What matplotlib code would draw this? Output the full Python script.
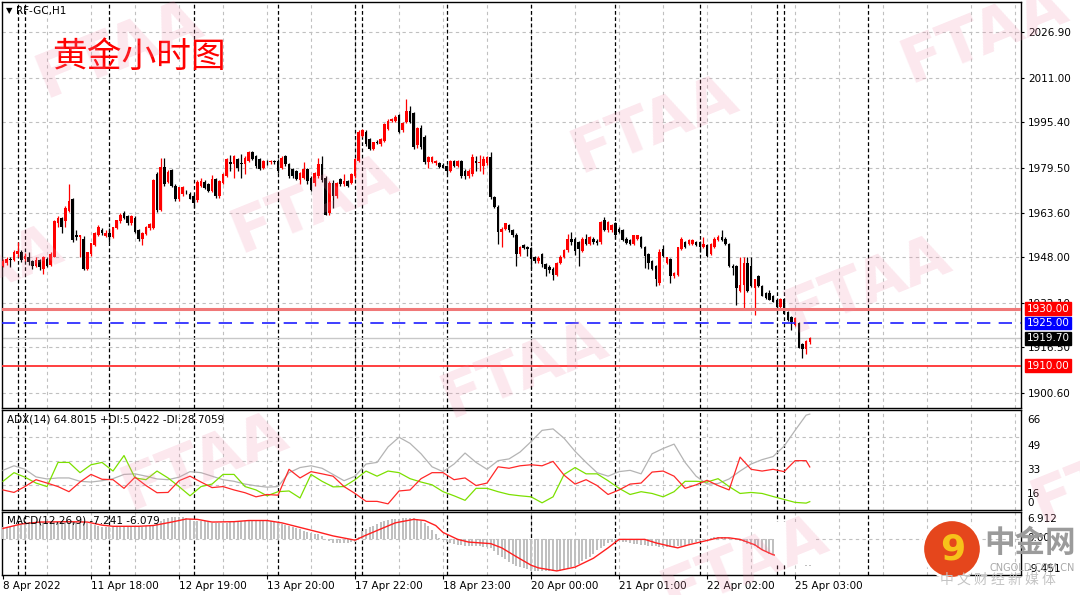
import numpy as np
import matplotlib.pyplot as plt
from matplotlib.transforms import blended_transform_factory
from matplotlib.patches import Circle, Rectangle

plt.rcParams['font.family'] = ['DejaVu Sans', 'Noto Sans CJK SC']

''' DATA '''

# H1 candles (bar 0 = 8 Apr 2022 evening)
opens = [
    1945.1, 1946.0, 1947.5, 1947.0, 1949.3, 1950.0, 1947.3, 1948.3, 1946.8, 1945.1,
    1947.0, 1944.0, 1947.5, 1945.4, 1948.1, 1960.0, 1961.8, 1960.6, 1964.2, 1968.4,
    1955.8, 1955.0, 1954.6, 1943.9, 1949.3, 1952.3, 1955.8, 1957.6, 1955.5, 1956.4,
    1955.2, 1958.2, 1960.6, 1963.6, 1962.4, 1960.0, 1961.8, 1957.6, 1954.3, 1956.2,
    1958.2, 1958.2, 1977.3, 1964.6, 1979.7, 1974.6, 1978.5, 1973.2, 1968.4, 1970.2,
    1971.0, 1970.2, 1969.6, 1968.0, 1973.2, 1974.4, 1973.6, 1971.3, 1975.4, 1969.5,
    1974.2, 1976.5, 1981.3, 1980.7, 1982.4, 1980.9, 1980.7, 1981.9, 1984.8, 1983.6,
    1982.4, 1979.5, 1981.5, 1981.3, 1981.9, 1981.8, 1979.5, 1983.6, 1980.7, 1978.9,
    1978.3, 1975.0, 1976.0, 1978.9, 1976.0, 1974.2, 1976.5, 1980.7, 1976.0, 1963.6,
    1974.2, 1969.5, 1975.4, 1973.6, 1974.8, 1974.2, 1976.5, 1981.9, 1990.7, 1991.9,
    1989.5, 1986.0, 1988.6, 1987.7, 1988.9, 1993.0, 1996.0, 1996.0, 1997.8, 1992.5,
    1995.6, 1999.2, 1998.6, 1987.3, 1993.3, 1990.3, 1981.3, 1981.5, 1981.0, 1981.0,
    1980.5, 1980.0, 1978.4, 1981.7, 1980.2, 1981.7, 1978.4, 1976.6, 1977.2, 1981.7,
    1981.0, 1980.2, 1981.0, 1983.1, 1969.1, 1965.8, 1956.9, 1958.1, 1959.3, 1957.5,
    1955.9, 1949.2, 1952.2, 1951.6, 1951.4, 1948.2, 1946.8, 1949.2, 1945.6, 1944.8,
    1944.0, 1942.0, 1946.2, 1948.2, 1950.6, 1954.5, 1954.5, 1953.3, 1950.4, 1954.5,
    1952.8, 1954.5, 1953.9, 1953.3, 1961.1, 1957.5, 1957.5, 1959.9, 1958.1, 1957.5,
    1954.6, 1954.0, 1952.8, 1954.6, 1955.1, 1951.6, 1949.2, 1946.8, 1945.0, 1939.1,
    1951.0, 1946.2, 1947.4, 1941.4, 1942.0, 1951.0, 1953.4, 1952.8, 1952.8, 1953.4,
    1953.4, 1951.6, 1952.2, 1949.2, 1951.6, 1954.0, 1955.1, 1954.6, 1952.8, 1945.0,
    1945.0, 1936.1, 1938.5, 1946.2, 1945.0, 1937.3, 1941.4, 1937.9, 1935.5, 1935.5,
    1934.3, 1933.1, 1930.7, 1933.4, 1928.9, 1927.2, 1924.2, 1925.0, 1917.6, 1915.8, 1918.2,
]
highs = [
    1947.5, 1948.0, 1948.1, 1950.5, 1953.4, 1950.5, 1949.5, 1950.0, 1947.2, 1948.0,
    1947.3, 1948.5, 1948.3, 1949.8, 1961.0, 1962.4, 1962.0, 1966.0, 1973.8, 1969.0,
    1957.6, 1955.8, 1955.5, 1950.0, 1953.0, 1957.0, 1959.3, 1958.2, 1957.5, 1958.2,
    1958.8, 1961.2, 1963.5, 1964.2, 1963.0, 1962.8, 1962.4, 1958.0, 1957.0, 1959.0,
    1960.0, 1975.5, 1978.0, 1982.7, 1982.7, 1978.5, 1979.0, 1973.8, 1972.8, 1973.0,
    1971.5, 1971.0, 1970.2, 1975.0, 1975.8, 1975.0, 1974.0, 1976.8, 1975.8, 1975.0,
    1977.5, 1983.0, 1983.9, 1984.0, 1983.0, 1984.2, 1983.5, 1985.2, 1985.4, 1984.0,
    1982.8, 1982.2, 1982.0, 1982.2, 1982.2, 1982.4, 1983.4, 1983.9, 1981.2, 1979.4,
    1978.8, 1978.0, 1981.3, 1979.4, 1976.4, 1978.0, 1983.0, 1983.4, 1976.5, 1974.8,
    1975.0, 1974.5, 1975.8, 1977.1, 1975.2, 1977.5, 1983.0, 1992.5, 1993.0, 1992.5,
    1990.0, 1988.5, 1989.0, 1990.0, 1995.2, 1996.5, 1997.0, 1998.0, 1998.3, 1995.5,
    2003.4, 2001.0, 1999.0, 1993.6, 1994.4, 1990.8, 1983.5, 1983.5, 1982.2, 1981.5,
    1981.0, 1980.5, 1982.0, 1982.0, 1982.0, 1982.0, 1979.0, 1979.0, 1984.3, 1983.7,
    1984.0, 1983.5, 1983.5, 1984.9, 1969.5, 1966.3, 1958.5, 1960.0, 1959.8, 1958.0,
    1956.5, 1952.0, 1952.8, 1952.0, 1951.8, 1948.6, 1948.6, 1949.6, 1946.0, 1945.2,
    1944.5, 1946.4, 1948.8, 1951.0, 1956.3, 1956.9, 1955.0, 1953.8, 1955.0, 1956.3,
    1955.5, 1955.0, 1954.5, 1960.8, 1962.3, 1960.8, 1959.8, 1960.3, 1958.5, 1957.9,
    1955.0, 1954.4, 1955.9, 1955.9, 1955.5, 1952.0, 1949.6, 1947.2, 1945.4, 1951.0,
    1952.2, 1948.3, 1947.8, 1943.0, 1951.8, 1955.1, 1953.8, 1954.3, 1954.3, 1953.8,
    1953.8, 1955.1, 1952.6, 1953.2, 1955.0, 1955.9, 1957.5, 1955.0, 1953.2, 1945.6,
    1945.4, 1948.0, 1948.0, 1948.0, 1948.0, 1940.3, 1941.8, 1938.3, 1935.9, 1936.7,
    1934.7, 1933.5, 1933.8, 1933.8, 1929.3, 1927.6, 1927.0, 1925.4, 1918.0, 1919.0, 1920.2,
]
lows = [
    1944.5, 1945.5, 1944.5, 1946.8, 1948.1, 1946.3, 1946.8, 1945.5, 1943.9, 1944.8,
    1943.5, 1942.1, 1944.5, 1945.0, 1948.0, 1958.8, 1956.4, 1958.5, 1964.0, 1953.5,
    1954.0, 1948.1, 1943.5, 1943.5, 1948.5, 1952.0, 1955.5, 1955.8, 1955.0, 1953.4,
    1954.8, 1957.8, 1960.0, 1961.5, 1959.5, 1959.5, 1956.5, 1953.8, 1952.3, 1955.8,
    1957.5, 1958.0, 1964.0, 1964.3, 1973.0, 1974.0, 1972.6, 1967.8, 1967.8, 1969.5,
    1970.2, 1968.4, 1965.4, 1967.5, 1972.8, 1972.0, 1971.0, 1971.0, 1969.0, 1968.9,
    1973.8, 1976.2, 1978.3, 1976.0, 1978.3, 1976.0, 1977.1, 1981.5, 1982.0, 1979.5,
    1978.5, 1979.0, 1980.5, 1980.8, 1980.8, 1977.7, 1979.0, 1980.2, 1976.0, 1976.0,
    1975.0, 1973.6, 1975.5, 1973.6, 1971.3, 1973.0, 1976.0, 1974.5, 1962.8, 1963.0,
    1965.4, 1969.0, 1973.2, 1973.0, 1972.8, 1973.8, 1976.0, 1981.5, 1990.2, 1987.2,
    1985.8, 1985.5, 1987.8, 1987.2, 1988.5, 1992.5, 1995.5, 1995.5, 1991.5, 1992.0,
    1995.0, 1995.0, 1986.0, 1986.5, 1986.0, 1980.7, 1979.5, 1981.0, 1980.5, 1979.5,
    1979.3, 1977.2, 1978.0, 1979.8, 1979.8, 1976.0, 1975.4, 1976.0, 1976.5, 1978.4,
    1978.4, 1977.2, 1980.5, 1968.5, 1965.4, 1952.8, 1951.6, 1957.5, 1957.0, 1955.2,
    1945.0, 1948.5, 1950.8, 1948.5, 1943.8, 1946.0, 1946.0, 1944.8, 1941.4, 1942.5,
    1940.2, 1941.5, 1945.8, 1947.8, 1950.0, 1952.5, 1949.0, 1945.0, 1950.0, 1952.5,
    1952.3, 1952.8, 1952.5, 1952.8, 1957.2, 1957.0, 1957.0, 1954.6, 1956.5, 1953.8,
    1952.8, 1952.5, 1952.4, 1954.2, 1951.2, 1944.4, 1944.0, 1943.5, 1937.9, 1938.5,
    1948.3, 1945.8, 1939.1, 1940.9, 1941.6, 1950.6, 1951.2, 1952.4, 1952.4, 1952.0,
    1949.8, 1951.2, 1948.2, 1948.8, 1951.2, 1953.6, 1953.6, 1952.4, 1944.6, 1942.0,
    1931.3, 1935.8, 1930.1, 1935.8, 1937.5, 1927.8, 1937.5, 1934.3, 1933.4, 1933.0,
    1932.3, 1929.5, 1930.3, 1928.0, 1925.8, 1922.4, 1923.8, 1916.2, 1912.9, 1914.1, 1917.8,
]
closes = [
    1946.9, 1947.5, 1947.0, 1949.9, 1950.3, 1947.0, 1948.5, 1946.3, 1945.1, 1947.0,
    1944.5, 1948.1, 1945.1, 1949.3, 1960.6, 1961.8, 1958.8, 1965.4, 1967.8, 1954.0,
    1955.2, 1955.8, 1943.9, 1949.9, 1952.9, 1956.4, 1958.8, 1956.4, 1956.7, 1955.2,
    1958.8, 1961.2, 1963.0, 1961.8, 1960.0, 1962.4, 1957.0, 1954.3, 1956.7, 1958.8,
    1959.8, 1975.0, 1964.6, 1979.7, 1973.8, 1977.9, 1973.2, 1968.4, 1972.6, 1972.6,
    1970.8, 1968.6, 1967.2, 1974.4, 1974.8, 1972.4, 1971.3, 1975.4, 1969.5, 1974.8,
    1977.1, 1982.4, 1980.9, 1983.6, 1979.5, 1980.7, 1983.0, 1984.8, 1982.4, 1980.0,
    1978.9, 1981.9, 1981.3, 1981.9, 1981.3, 1978.3, 1983.0, 1980.7, 1976.5, 1976.5,
    1975.4, 1977.7, 1978.9, 1974.8, 1971.8, 1977.7, 1980.7, 1975.0, 1963.0, 1974.2,
    1969.5, 1974.2, 1973.6, 1974.8, 1973.0, 1977.1, 1982.4, 1991.9, 1992.5, 1987.7,
    1986.0, 1988.3, 1988.1, 1989.5, 1994.8, 1996.0, 1996.6, 1997.2, 1992.1, 1995.0,
    1999.2, 1995.6, 1986.7, 1993.3, 1986.7, 1981.3, 1983.1, 1983.1, 1981.9, 1979.8,
    1979.5, 1978.4, 1981.7, 1980.2, 1981.7, 1976.6, 1976.6, 1978.4, 1983.1, 1981.0,
    1981.5, 1982.5, 1983.1, 1969.1, 1965.8, 1956.9, 1958.1, 1959.9, 1957.5, 1955.7,
    1949.2, 1951.6, 1951.2, 1951.0, 1947.4, 1946.8, 1947.9, 1945.6, 1943.8, 1943.6,
    1942.0, 1946.2, 1948.2, 1950.6, 1954.5, 1953.3, 1950.4, 1951.0, 1954.5, 1952.8,
    1955.1, 1953.3, 1953.0, 1960.5, 1957.5, 1960.5, 1959.3, 1955.7, 1956.9, 1954.0,
    1952.9, 1952.8, 1955.7, 1955.7, 1951.6, 1948.6, 1946.2, 1943.8, 1940.3, 1949.8,
    1948.6, 1948.0, 1941.4, 1942.6, 1951.6, 1954.6, 1951.6, 1954.0, 1954.0, 1952.2,
    1951.6, 1952.8, 1948.6, 1952.8, 1954.6, 1955.1, 1954.0, 1952.8, 1945.0, 1944.4,
    1937.3, 1938.5, 1946.2, 1936.1, 1937.9, 1940.3, 1937.9, 1934.5, 1933.7, 1933.1,
    1932.5, 1930.7, 1933.4, 1928.3, 1926.0, 1925.4, 1926.8, 1916.4, 1915.8, 1918.8, 1919.7,
]

# ADX(14) window, sampled every 3 bars
adx_bars = [0, 3, 6, 9, 12, 15, 18, 21, 24, 27, 30, 33, 36, 39, 42, 45, 48, 51, 54, 57,
            60, 63, 66, 69, 72, 75, 78, 81, 84, 87, 90, 93, 96, 99, 102, 105, 108, 111, 114, 117,
            120, 123, 126, 129, 132, 135, 138, 141, 144, 147, 150, 153, 156, 159, 162, 165, 168, 171, 174, 177,
            180, 183, 186, 189, 192, 195, 198, 201, 204, 207, 210, 213, 216, 219, 220]
adx_main = [26.4, 29.5, 27.1, 21.9, 20.5, 21.2, 21.2, 18.9, 18.4, 19.3,
            20.7, 23.6, 24.0, 22.4, 20.5, 20.0, 21.7, 25.5, 24.8, 22.4,
            20.0, 18.9, 17.0, 15.8, 14.9, 15.3, 24.8, 28.3, 29.5, 27.8,
            23.6, 19.3, 22.4, 30.7, 31.8, 42.4, 49.0, 44.8, 37.7, 28.8,
            25.5, 30.7, 38.2, 31.8, 27.1, 33.0, 34.2, 38.9, 46.0, 53.7,
            54.7, 48.3, 39.4, 31.8, 24.8, 22.4, 25.5, 26.4, 24.0, 37.7,
            41.3, 44.3, 31.8, 22.4, 17.0, 17.4, 20.5, 25.9, 30.7, 33.7,
            35.8, 42.9, 53.7, 64.1, 64.8]
plus_di = [18.9, 24.8, 21.7, 17.7, 15.3, 31.8, 31.8, 24.8, 30.2, 31.8,
           25.9, 36.5, 21.2, 20.0, 25.9, 21.2, 15.3, 9.0, 15.3, 17.0,
           23.6, 23.6, 15.3, 13.0, 9.0, 11.8, 12.3, 7.5, 23.6, 18.9,
           15.1, 15.3, 20.0, 25.9, 22.4, 25.9, 24.8, 20.7, 18.4, 16.5,
           11.8, 9.0, 5.9, 14.1, 14.1, 11.8, 9.9, 9.0, 8.3, 4.2,
           8.3, 23.6, 28.3, 24.0, 24.0, 19.3, 14.1, 9.9, 11.8, 10.6,
           8.3, 11.8, 18.9, 18.9, 18.4, 20.7, 15.3, 10.6, 11.3, 10.6,
           8.5, 6.5, 4.5, 4.0, 5.0]
minus_di = [13.0, 11.3, 15.3, 20.0, 17.7, 15.3, 11.8, 18.4, 23.6, 20.3,
            20.0, 14.1, 21.7, 16.0, 11.1, 11.3, 19.3, 22.4, 18.4, 14.6,
            15.3, 13.0, 11.1, 8.3, 9.9, 9.4, 27.1, 21.2, 25.5, 24.0,
            22.4, 15.3, 10.6, 5.2, 5.2, 3.5, 12.3, 13.0, 20.7, 24.8,
            24.8, 20.0, 21.2, 16.0, 17.7, 28.8, 27.8, 29.5, 30.2, 29.5,
            32.5, 23.1, 17.0, 20.0, 16.0, 9.9, 13.0, 17.0, 17.7, 25.2,
            25.9, 22.4, 14.1, 16.5, 19.6, 16.0, 13.0, 35.4, 27.1, 25.9,
            27.1, 25.5, 33.0, 33.0, 28.7]

# MACD(12,26,9): main as histogram (one per bar), signal line at sampled bars
macd_main = [
    2.9, 3.0, 3.0, 3.3, 3.6, 3.8, 4.0, 4.2, 4.3, 4.3,
    4.3, 4.3, 4.3, 4.3, 4.3, 4.4, 4.4, 4.4, 4.3, 4.3,
    4.3, 4.3, 4.2, 4.0, 3.8, 3.5, 3.2, 3.1, 3.0, 2.9,
    2.9, 2.9, 2.9, 2.9, 2.9, 2.9, 2.9, 3.0, 3.1, 3.2,
    3.4, 3.5, 4.0, 4.7, 5.0, 5.3, 5.6, 5.6, 5.6, 5.5,
    5.3, 5.0, 4.7, 4.6, 4.5, 4.5, 4.3, 4.0, 4.0, 4.0,
    4.0, 4.1, 4.3, 4.5, 4.6, 4.7, 4.7, 4.7, 4.7, 4.7,
    4.7, 4.7, 4.6, 4.5, 4.3, 4.1, 3.8, 3.5, 3.2, 3.0,
    2.7, 2.4, 2.0, 1.7, 1.5, 1.3, 1.1, 0.6, 0.0, -0.5,
    -1.1, -1.1, -1.1, -1.1, -1.1, -1.0, -0.8, 0.5, 2.0, 2.6,
    3.0, 3.4, 3.8, 4.3, 4.5, 4.8, 5.0, 5.1, 5.2, 5.3,
    5.3, 5.3, 5.3, 5.0, 4.7, 4.0, 3.2, 2.2, 1.1, 0.2,
    -0.4, -0.8, -1.1, -1.4, -1.6, -1.7, -1.8, -2.0, -2.0, -2.0,
    -2.0, -2.1, -2.2, -2.4, -3.2, -4.2, -4.8, -5.4, -6.0, -6.5,
    -7.0, -7.4, -7.7, -8.0, -8.3, -8.3, -8.3, -8.3, -8.3, -8.3,
    -8.3, -8.3, -8.3, -8.1, -7.8, -7.4, -7.0, -6.5, -5.9, -5.3,
    -4.8, -4.0, -3.0, -2.4, -1.8, -1.2, -0.8, -0.4, -0.6, -0.8,
    -1.0, -1.1, -1.3, -1.5, -1.6, -1.7, -1.8, -1.9, -2.0, -2.1,
    -2.1, -2.2, -2.2, -2.1, -2.0, -1.9, -1.8, -1.5, -1.2, -0.9,
    -0.6, -0.3, 0.0, 0.2, 0.3, 0.3, 0.3, 0.3, 0.2, 0.0,
    -0.3, -0.6, -1.0, -1.3, -1.6, -2.0, -2.5, -3.0, -3.5, -3.9,
    -4.2, -4.5, -4.8, -5.1, -5.4, -5.7, -6.0, -6.4, -6.7, -7.0, -7.24,
]
signal_bars = [0, 5, 10, 18, 23, 27, 30, 37, 41, 46, 50, 53, 57, 63, 67, 72, 76, 81, 86, 90,
               96, 99, 103, 107, 112, 115, 118, 120, 124, 127, 133, 136, 140, 144, 146, 151, 156, 161, 165, 168,
               171, 175, 178, 182, 184, 187, 191, 195, 198, 201, 205, 207, 210, 220]
signal_vals = [2.65, 3.8, 4.3, 4.4, 4.3, 3.5, 3.2, 3.2, 3.4, 4.3, 5.1, 5.0, 4.3, 4.4, 4.7, 4.7, 4.1, 2.9, 1.7, 0.7,
               -0.4, 0.9, 2.5, 4.1, 5.0, 4.7, 3.4, 1.6, -0.2, -0.9, -1.3, -2.4, -4.7, -6.9, -7.6, -8.4, -7.4, -5.1, -2.4, -0.2,
               -0.2, -0.2, -1.1, -2.0, -2.4, -1.6, -0.7, 0.2, 0.2, -0.2, -1.6, -2.9, -4.2, -6.08]

price_ticks = [2026.90, 2011.00, 1995.40, 1979.50, 1963.60, 1948.00, 1932.10, 1916.50, 1900.60]
time_labels = ['8 Apr 2022', '11 Apr 18:00', '12 Apr 19:00', '13 Apr 20:00', '17 Apr 22:00',
               '18 Apr 23:00', '20 Apr 00:00', '21 Apr 01:00', '22 Apr 02:00', '25 Apr 03:00']
separators = [4, 6, 29, 52, 75, 96, 98, 121, 144, 167, 190, 211, 213, 236]
resist, target, support, last_price = 1930.00, 1925.00, 1910.00, 1919.70


''' PLOTTING '''

W, H = 1080, 595


def place(x0, y0, x1, y1):
    return [x0 / W, 1 - y1 / H, (x1 - x0) / W, (y1 - y0) / H]


fig = plt.figure(figsize=(W / 100, H / 100), dpi=100)
ax = fig.add_axes(place(2, 2, 1021, 408))
ax_adx = fig.add_axes(place(2, 410, 1021, 510), sharex=ax)
ax_macd = fig.add_axes(place(2, 512, 1021, 575), sharex=ax)

grid_kw = dict(color='#c0c0c0', ls=(0, (3, 3)), lw=0.8, zorder=1)
for a in (ax, ax_adx, ax_macd):
    for b in range(12, 278, 12):
        a.axvline(b, **grid_kw)
    for d in separators:
        a.axvline(d, color='black', ls=(0, (3, 2)), lw=0.9, zorder=2)
    for s in a.spines.values():
        s.set_linewidth(1.0)
        s.set_color('black')
    a.set_xlim(-0.27, 277.6)

# candles
o, h, l, c = map(np.array, (opens, highs, lows, closes))
x = np.arange(len(c))
col = np.where(c >= o, '#ff0000', '#000000')
ax.vlines(x, l, h, colors=col, lw=0.9, zorder=3)
ax.bar(x, np.maximum(np.abs(c - o), 0.3), bottom=np.minimum(o, c), width=0.68,
       color=col, lw=0, zorder=4)

ax.set_ylim(1895.2, 2037.55)
for p in price_ticks:
    ax.axhline(p, **grid_kw)
ax.yaxis.tick_right()
ax.set_yticks(price_ticks)
ax.set_yticklabels([f'{p:.2f}' for p in price_ticks])
ax.tick_params(axis='y', length=2.5, pad=2.5, labelsize=7.5)
ax.tick_params(axis='x', bottom=False, labelbottom=False)

ax.axhline(last_price, color='#c8c8c8', lw=1.0, zorder=2)
ax.axhline(resist, color='#f07878', lw=2.2, zorder=5)
ax.axhline(support, color='#ff3030', lw=1.3, zorder=5)
ax.axhline(target, color='#1e1eff', lw=1.2, ls=(0, (8, 5)), zorder=5)

tr = blended_transform_factory(ax.transAxes, ax.transData)
for val, fc in [(resist, '#ff0000'), (target, '#0000ff'), (last_price, '#000000'), (support, '#ff0000')]:
    ax.text(1.0055, val, f'{val:.2f}', transform=tr, color='white', fontsize=7.5,
            va='center', ha='left', clip_on=False, zorder=10,
            bbox=dict(boxstyle='square,pad=0.14', fc=fc, ec=fc))

ax.text(0.004, 0.979, '▼', transform=ax.transAxes, fontsize=6, va='center')
ax.text(0.0137, 0.979, 'RF-GC,H1', transform=ax.transAxes, fontsize=7.5, va='center')
ax.text(0.049, 0.864, '黄金小时图', transform=ax.transAxes, color='#ff0000', fontsize=25,
        family=['Noto Sans CJK SC'], va='center')

# ADX window
ax_adx.set_ylim(-0.7, 67.6)
for g in (16.46, 32.93, 49.39):
    ax_adx.axhline(g, **grid_kw)
ax_adx.plot(adx_bars, adx_main, color='#b4b4b4', lw=0.9, zorder=3)
ax_adx.plot(adx_bars, plus_di, color='#7ce000', lw=0.9, zorder=3)
ax_adx.plot(adx_bars, minus_di, color='#ff2828', lw=0.9, zorder=3)
ax_adx.set_yticks([])
ax_adx.tick_params(axis='x', bottom=False, labelbottom=False)
tr2 = blended_transform_factory(ax_adx.transAxes, ax_adx.transData)
for v, s in [(61.1, '66'), (43.3, '49'), (26.4, '33'), (9.9, '16'), (4.1, '0')]:
    ax_adx.text(1.0059, v, s, transform=tr2, fontsize=7.5, va='center', clip_on=False)
ax_adx.text(0.005, 0.9, 'ADX(14) 64.8015 +DI:5.0422 -DI:28.7059', transform=ax_adx.transAxes,
            fontsize=7.5, va='center')

# MACD window
ax_macd.set_ylim(-9.451, 6.912)
ax_macd.axhline(0, **grid_kw)
ax_macd.bar(x, macd_main, width=0.55, color='#c0c0c0', lw=0, zorder=3)
ax_macd.plot(signal_bars, signal_vals, color='#ff2020', lw=1.0, zorder=4)
ax_macd.add_patch(Rectangle((210.6, -6.9), 11.2, 11.3, fc='white', ec='none', zorder=5))
ax_macd.set_yticks([])
tr3 = blended_transform_factory(ax_macd.transAxes, ax_macd.transData)
for v, s in [(5.14, '6.912'), (0.23, '0.00'), (-7.8, '-9.451')]:
    ax_macd.text(1.0059, v, s, transform=tr3, fontsize=7.5, va='center', clip_on=False)
ax_macd.text(0.005, 0.873, 'MACD(12,26,9) -7.241 -6.079', transform=ax_macd.transAxes,
             fontsize=7.5, va='center', zorder=6)
ax_macd.set_xticks(range(0, 217, 24))
ax_macd.set_xticklabels(time_labels, ha='left', fontsize=7.5)
ax_macd.tick_params(axis='x', length=3, pad=1.5)

# FTAA watermarks
for px, py in [(120, 50), (315, 205), (655, 125), (985, 35), (868, 285), (525, 370),
               (-20, 275), (205, 462), (1115, 475), (745, 565)]:
    fig.text(px / W, 1 - py / H, 'FTAA', rotation=22, fontsize=44, fontweight='bold',
             color='#f08cab', alpha=0.2, ha='center', va='center', zorder=20)

# site logo, bottom right
lax = fig.add_axes(place(918, 515, 986, 583))
lax.set_xlim(-1, 1)
lax.set_ylim(-1, 1)
lax.axis('off')
lax.add_patch(Circle((0, 0), 0.86, fc='#e5461c', ec='white', lw=2))
lax.text(0.02, 0.0, '9', fontsize=26, fontweight='bold', color='#f7c21a', ha='center', va='center')
fig.text(1030 / W, 1 - 543 / H, '中金网', family=['Noto Sans CJK SC'], fontsize=22,
         fontweight='bold', color='#9b9b9b', ha='center', va='center', zorder=21)
fig.text(1032 / W, 1 - 568 / H, 'CNGOLD.COM.CN', fontsize=7, color='#a8a8a8',
         ha='center', va='center', zorder=21)
fig.text(998 / W, 1 - 580 / H, '中 文 财 经 新 媒 体', family=['Noto Sans CJK SC'], fontsize=10,
         color='#c4c4c4', ha='center', va='center', zorder=21)

fig.savefig('out.png', dpi=100, facecolor='white')
